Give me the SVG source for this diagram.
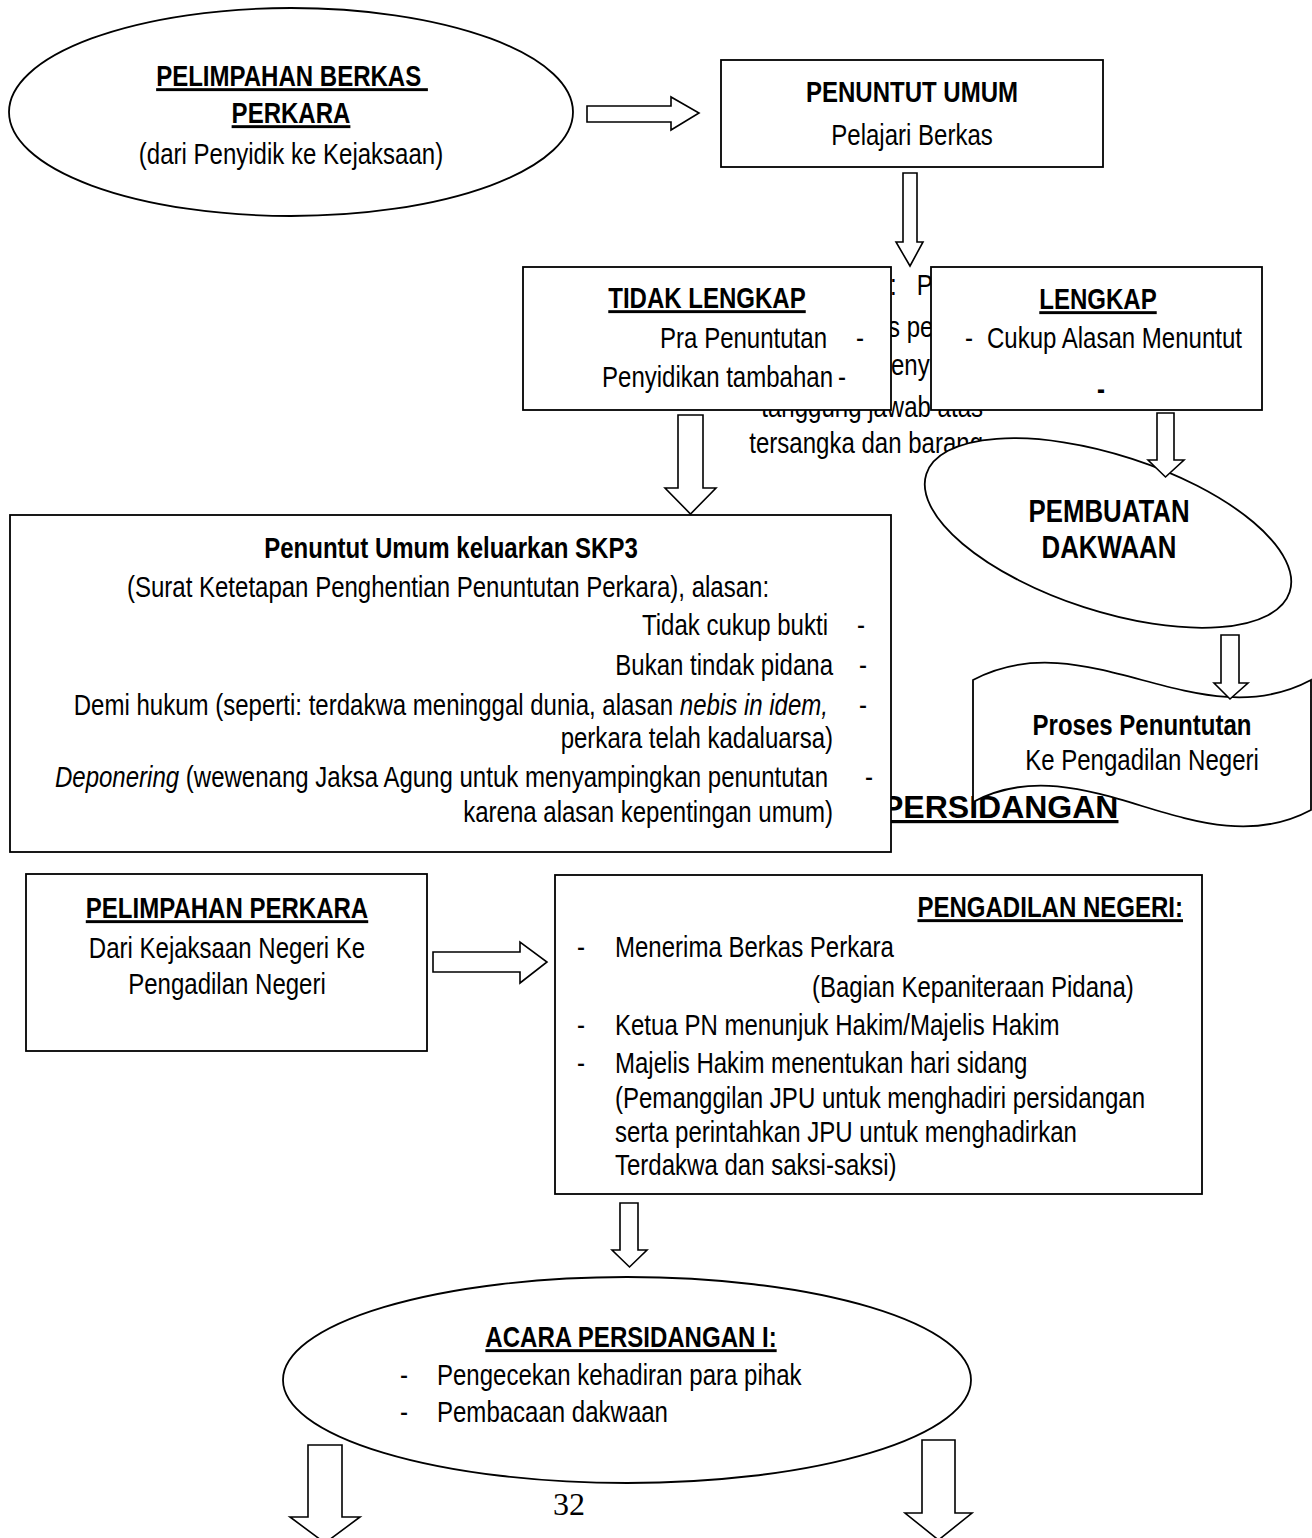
<svg xmlns="http://www.w3.org/2000/svg" width="1312" height="1538" viewBox="0 0 1312 1538">
<style>
.t{font-family:"Liberation Sans",Arial,sans-serif;font-size:29.3px;fill:#000}
.b{font-weight:bold}
.u{text-decoration:underline}
.i{font-style:italic}
.m{text-anchor:middle}
.e{text-anchor:end}
.pre{white-space:pre}
.shape{fill:#fff;stroke:#000;stroke-width:1.8}
.arrow{fill:#fff;stroke:#000;stroke-width:1.6;stroke-linejoin:miter}
</style>
<rect width="1312" height="1538" fill="#fff"/>

<g id="hidden-note">
<text class="t pre" transform="translate(890 295) scale(.82 1)">:   P</text>
<text class="t pre" transform="translate(888 337) scale(.82 1)">s pe</text>
<text class="t" transform="translate(891 375) scale(.82 1)">enyi</text>
<text class="t e" transform="translate(983 417) scale(.82 1)">tanggung jawab atas</text>
<text class="t e" transform="translate(983 453) scale(.82 1)">tersangka dan barang</text>
</g>

<g id="heading-persidangan">
<text x="882" y="818" font-family="Liberation Sans, Arial, sans-serif" font-size="32" font-weight="bold" text-decoration="underline">PERSIDANGAN</text>
</g>

<g id="node-pelimpahan-berkas">
<ellipse class="shape" cx="291" cy="112" rx="282" ry="104"/>
<text class="t b u m pre" transform="translate(292 86) scale(.82 1)">PELIMPAHAN BERKAS </text>
<text class="t b u m" transform="translate(291 123) scale(.82 1)">PERKARA</text>
<text class="t m" transform="translate(291 164) scale(.82 1)">(dari Penyidik ke Kejaksaan)</text>
</g>

<g id="node-penuntut-umum">
<rect class="shape" x="721" y="60" width="382" height="107"/>
<text class="t b m" transform="translate(912 102) scale(.82 1)">PENUNTUT UMUM</text>
<text class="t m" transform="translate(912 145) scale(.82 1)">Pelajari Berkas</text>
</g>

<g id="node-tidak-lengkap">
<rect class="shape" x="523" y="267" width="368" height="143"/>
<text class="t b u m" transform="translate(707 308) scale(.82 1)">TIDAK LENGKAP</text>
<text class="t e" transform="translate(827 348) scale(.82 1)">Pra Penuntutan</text>
<text class="t" transform="translate(856 348) scale(.82 1)">-</text>
<text class="t e" transform="translate(833 387) scale(.82 1)">Penyidikan tambahan</text>
<text class="t" transform="translate(838 387) scale(.82 1)">-</text>
</g>

<g id="node-lengkap">
<rect class="shape" x="931" y="267" width="331" height="143"/>
<text class="t b u m" transform="translate(1098 309) scale(.82 1)">LENGKAP</text>
<text class="t" transform="translate(965 348) scale(.82 1)">-</text>
<text class="t" transform="translate(987 348) scale(.82 1)">Cukup Alasan Menuntut</text>
<text class="t b" transform="translate(1097 399) scale(.82 1)">-</text>
</g>

<g id="node-pembuatan-dakwaan">
<ellipse class="shape" cx="1108" cy="533" rx="191" ry="78" transform="rotate(18 1108 533)"/>
<text class="t b m" transform="translate(1109 522) scale(.82 1)" style="font-size:31.5px">PEMBUATAN</text>
<text class="t b m" transform="translate(1109 558) scale(.82 1)" style="font-size:31.5px">DAKWAAN</text>
</g>

<g id="node-skp3">
<rect class="shape" x="10" y="515" width="881" height="337"/>
<text class="t b m" transform="translate(451 558) scale(.82 1)">Penuntut Umum keluarkan SKP3</text>
<text class="t m" transform="translate(448 597) scale(.82 1)">(Surat Ketetapan Penghentian Penuntutan Perkara), alasan:</text>
<text class="t e" transform="translate(828 635) scale(.82 1)">Tidak cukup bukti</text>
<text class="t" transform="translate(857 635) scale(.82 1)">-</text>
<text class="t e" transform="translate(833 675) scale(.82 1)">Bukan tindak pidana</text>
<text class="t" transform="translate(859 675) scale(.82 1)">-</text>
<text class="t e" transform="translate(828 715) scale(.82 1)">Demi hukum (seperti: terdakwa meninggal dunia, alasan <tspan class="i">nebis in idem,</tspan></text>
<text class="t" transform="translate(859 715) scale(.82 1)">-</text>
<text class="t e" transform="translate(833 748) scale(.82 1)">perkara telah kadaluarsa)</text>
<text class="t e" transform="translate(828 787) scale(.82 1)"><tspan class="i">Deponering</tspan> (wewenang Jaksa Agung untuk menyampingkan penuntutan</text>
<text class="t" transform="translate(865 787) scale(.82 1)">-</text>
<text class="t e" transform="translate(833 822) scale(.82 1)">karena alasan kepentingan umum)</text>
</g>

<g id="node-proses-penuntutan">
<path class="shape" d="M973,680 C1085,620 1199,740 1311,680 L1311,810 C1199,870 1085,742 973,802 Z"/>
<text class="t b m" transform="translate(1142 735) scale(.82 1)">Proses Penuntutan</text>
<text class="t m" transform="translate(1142 770) scale(.82 1)">Ke Pengadilan Negeri</text>
</g>

<g id="node-pelimpahan-perkara">
<rect class="shape" x="26" y="874" width="401" height="177"/>
<text class="t b u m" transform="translate(227 918) scale(.82 1)">PELIMPAHAN PERKARA</text>
<text class="t m" transform="translate(227 958) scale(.82 1)">Dari Kejaksaan Negeri Ke</text>
<text class="t m" transform="translate(227 994) scale(.82 1)">Pengadilan Negeri</text>
</g>

<g id="node-pengadilan-negeri">
<rect class="shape" x="555" y="875" width="647" height="319"/>
<text class="t b u e" transform="translate(1183 917) scale(.82 1)">PENGADILAN NEGERI:</text>
<text class="t" transform="translate(577 957) scale(.82 1)">-</text>
<text class="t" transform="translate(615 957) scale(.82 1)">Menerima Berkas Perkara</text>
<text class="t" transform="translate(812 997) scale(.82 1)">(Bagian Kepaniteraan Pidana)</text>
<text class="t" transform="translate(577 1035) scale(.82 1)">-</text>
<text class="t" transform="translate(615 1035) scale(.82 1)">Ketua PN menunjuk Hakim/Majelis Hakim</text>
<text class="t" transform="translate(577 1073) scale(.82 1)">-</text>
<text class="t" transform="translate(615 1073) scale(.82 1)">Majelis Hakim menentukan hari sidang</text>
<text class="t" transform="translate(615 1108) scale(.82 1)">(Pemanggilan JPU untuk menghadiri persidangan</text>
<text class="t" transform="translate(615 1142) scale(.82 1)">serta perintahkan JPU untuk menghadirkan</text>
<text class="t" transform="translate(615 1175) scale(.82 1)">Terdakwa dan saksi-saksi)</text>
</g>

<g id="node-acara-persidangan">
<ellipse class="shape" cx="627" cy="1380" rx="344" ry="103"/>
<text class="t b u m" transform="translate(631 1347) scale(.82 1)">ACARA PERSIDANGAN I:</text>
<text class="t" transform="translate(400 1385) scale(.82 1)">-</text>
<text class="t" transform="translate(437 1385) scale(.82 1)">Pengecekan kehadiran para pihak</text>
<text class="t" transform="translate(400 1422) scale(.82 1)">-</text>
<text class="t" transform="translate(437 1422) scale(.82 1)">Pembacaan dakwaan</text>
</g>

<g id="page-number">
<text x="553" y="1515" font-family="Liberation Serif, Times New Roman, serif" font-size="32">32</text>
</g>

<g id="connectors">
<polygon class="arrow" points="587,106 671,106 671,97 699,113 671,130 671,122 587,122"/>
<polygon class="arrow" points="903,173 917,173 917,242 923,242 910,266 896,242 903,242"/>
<polygon class="arrow" points="678,415 703,415 703,488 716,488 690.5,514 665,488 678,488"/>
<polygon class="arrow" points="1157,413 1174,413 1174,460 1184,460 1165.5,477 1148,460 1157,460"/>
<polygon class="arrow" points="1221,635 1239,635 1239,683 1248,683 1230,699 1214,683 1221,683"/>
<polygon class="arrow" points="433,952 520,952 520,942 547,962 520,983 520,972 433,972"/>
<polygon class="arrow" points="620,1203 638,1203 638,1250 647,1250 629.5,1267 612,1250 620,1250"/>
<polygon class="arrow" points="308,1445 342,1445 342,1517 360,1517 325,1543 290,1517 308,1517"/>
<polygon class="arrow" points="922,1440 955,1440 955,1513 972,1513 938.5,1540 905,1513 922,1513"/>
</g>
</svg>
